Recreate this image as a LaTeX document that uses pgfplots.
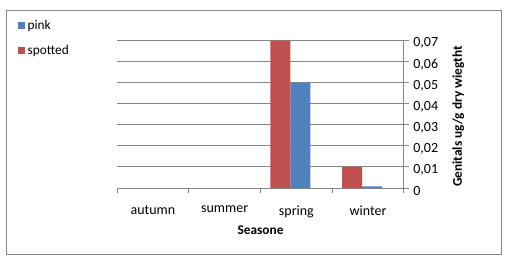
\documentclass[border=0pt]{standalone}
\usepackage{fontspec}
\setmainfont{Carlito}
\usepackage{pgfplots}
\pgfplotsset{compat=1.18}
\definecolor{pinkc}{HTML}{4F81BD}
\definecolor{spotc}{HTML}{C0504D}
\definecolor{gridc}{HTML}{868686}
\begin{document}
\begin{tikzpicture}[x=0.75pt,y=0.75pt]
\useasboundingbox (0,0) rectangle (511,265);
\draw[gridc, line width=0.75pt] (6.5,11) rectangle (501.5,255);
\begin{axis}[
  at={(87.75pt,57.75pt)}, anchor=south west,
  scale only axis, width=215.25pt, height=111pt,
  xmin=-0.5, xmax=3.5, ymin=0, ymax=0.07,
  axis x line*=bottom, axis y line*=right,
  axis line style={gridc, line width=0.75pt},
  every tick/.style={gridc, line width=0.75pt},
  tick align=outside, major tick length=3.5pt,
  xtick={-0.5,0.5,1.5,2.5,3.5},
  x tick label as interval,
  xticklabels={autumn,summer,spring,winter},
  ytick={0,0.01,0.02,0.03,0.04,0.05,0.06,0.07},
  ymajorgrids, grid style={gridc, line width=0.75pt},
  /pgf/number format/assume math mode=true,
  /pgf/number format/use comma,
  /pgf/number format/fixed,
  /pgf/number format/precision=2,
  scaled y ticks=false,
  tick label style={font=\fontsize{10.5}{12}\selectfont, text=black},
  yticklabel style={yshift=-2.5pt},
  xticklabel style={yshift=-6.5pt},
  xlabel={\textbf{Seasone}},
  xlabel style={at={(axis description cs:0.5,0)}, anchor=center, yshift=-31.5pt, font=\fontsize{10}{12}\selectfont},
  ylabel={\textbf{Genitals ug/g dry wiegtht}},
  ylabel style={at={(axis description cs:1.153,0.483)}, anchor=north, font=\fontsize{10}{12}\selectfont},
  legend style={at={(axis description cs:-0.345,1.156)}, anchor=north west, draw=none, fill=none,
    font=\fontsize{10}{12}\selectfont, row sep=6.3pt, inner sep=0pt},
  legend cell align=left,
  legend image code/.code={\fill[#1] (0pt,-2.5pt) rectangle (5pt,2.5pt);},
]
\addplot[ybar, fill=pinkc, draw=none, bar width=15pt, bar shift=3pt]
  coordinates {(0,0) (1,0) (2,0.0498) (3,0.0008)};
\addplot[ybar, fill=spotc, draw=none, bar width=15pt, bar shift=-12pt]
  coordinates {(0,0) (1,0) (2,0.0697) (3,0.0100)};
\legend{pink,spotted}
\end{axis}
\end{tikzpicture}
\end{document}
